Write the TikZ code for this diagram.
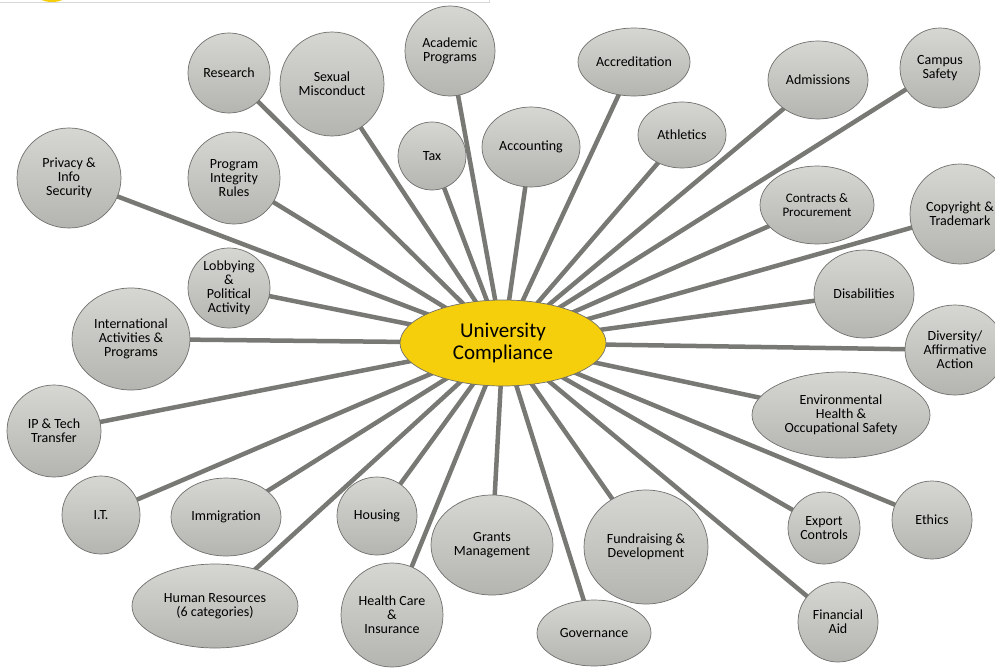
\documentclass[tikz,border=0pt]{standalone}
\usepackage{fontspec}
\setmainfont{Carlito}
\usetikzlibrary{shapes.geometric,backgrounds}

\definecolor{bubtop}{RGB}{214,214,210}
\definecolor{bubbot}{RGB}{180,180,176}
\definecolor{bubline}{RGB}{112,112,110}
\definecolor{spokegray}{RGB}{120,120,116}
\definecolor{hubyellow}{RGB}{245,206,12}
\definecolor{framegray}{RGB}{215,215,215}

\begin{document}
\begin{tikzpicture}[x=1pt,y=-1pt,
  bubble/.style 2 args={ellipse, draw=bubline, line width=0.7pt,
    top color=bubtop, bottom color=bubbot, inner sep=0pt,
    minimum width=#1pt, minimum height=#2pt, align=center,
    font=\fontsize{14}{14}\selectfont},
  spoke/.style={draw=spokegray, line width=4.5pt}]

\useasboundingbox (0,0) rectangle (995,669);

% scrap of the frame at the top
\fill [hubyellow] (52,-4) ellipse (14pt and 6pt);
\draw [framegray, line width=1pt] (0,3) -- (489,3) -- (489,0);

% hub
\node [ellipse, draw=bubline, line width=0.7pt, fill=hubyellow,
  minimum width=206pt, minimum height=86pt, inner sep=0pt, align=center,
  font=\fontsize{21}{22}\selectfont] (uc) at (503,343) {University\\Compliance};

% top row
\node [bubble={82}{80}] (research) at (229,73) {Research};
\node [bubble={104}{104}] (sexual) at (332,84) {Sexual\\Misconduct};
\node [bubble={90}{90}] (academic) at (450,51) {Academic\\Programs};
\node [bubble={68}{68}] (tax) at (432,156) {Tax};
\node [bubble={98}{80}] (accounting) at (531,147) {Accounting};
\node [bubble={112}{68}] (accred) at (634,62) {Accreditation};
\node [bubble={88}{66}] (athletics) at (682,135) {Athletics};
\node [bubble={100}{78}] (admissions) at (818,80) {Admissions};
\node [bubble={80}{80}] (campus) at (940,68) {Campus\\Safety};

% right side
\node [bubble={114}{78}, font=\fontsize{13}{14}\selectfont] (contracts) at (817,205) {Contracts \&\\Procurement};
\node [bubble={100}{100}] (copyright) at (960,214) {Copyright \&\\Trademark};
\node [bubble={100}{88}] (disab) at (864,294) {Disabilities};
\node [bubble={100}{90}] (diversity) at (955,350) {Diversity/\\Affirmative\\Action};
\node [bubble={178}{86}] (envhealth) at (841,415) {Environmental\\Health \&\\Occupational Safety};
\node [bubble={80}{78}] (ethics) at (932,520) {Ethics};
\node [bubble={72}{72}] (export) at (824,528) {Export\\Controls};
\node [bubble={80}{80}] (finaid) at (838,622) {Financial\\Aid};

% bottom row
\node [bubble={124}{114}] (fundraise) at (646,547) {Fundraising \&\\Development};
\node [bubble={114}{66}] (governance) at (594,633) {Governance};
\node [bubble={122}{100}] (grants) at (492,545) {Grants\\Management};
\node [bubble={102}{104}] (health) at (392,615) {Health Care\\\&\\Insurance};
\node [bubble={80}{78}] (housing) at (377,516) {Housing};
\node [bubble={166}{84}] (hr) at (215,606) {Human Resources\\(6 categories)};
\node [bubble={110}{78}] (immig) at (226,517) {Immigration};
\node [bubble={78}{78}] (it) at (101,515) {I.T.};

% left side
\node [bubble={94}{92}] (iptech) at (54,431) {IP \& Tech\\Transfer};
\node [bubble={118}{102}] (intl) at (131,339) {International\\Activities \&\\Programs};
\node [bubble={82}{80}] (lobby) at (229,288) {Lobbying\\\&\\Political\\Activity};
\node [bubble={104}{100}] (privacy) at (69,178) {Privacy \&\\Info\\Security};
\node [bubble={92}{92}] (integrity) at (234,178) {Program\\Integrity\\Rules};

\begin{pgfonlayer}{background}
\foreach \n in {research,sexual,academic,tax,accounting,accred,athletics,
  admissions,campus,contracts,copyright,disab,diversity,envhealth,ethics,
  export,finaid,fundraise,governance,grants,health,housing,hr,immig,it,
  iptech,intl,lobby,privacy,integrity}
  \draw [spoke] (uc.center) -- (\n.center);
\end{pgfonlayer}

\end{tikzpicture}
\end{document}
